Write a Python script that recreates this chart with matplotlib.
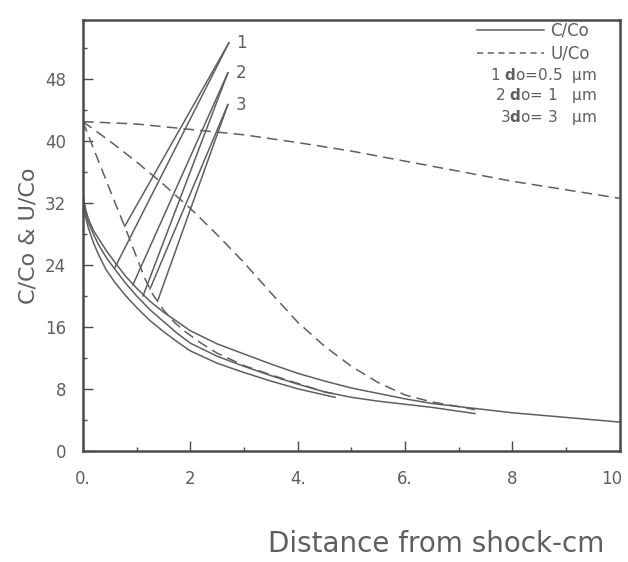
import matplotlib.pyplot as plt
import matplotlib.transforms as mtransforms
from matplotlib.lines import Line2D
from matplotlib.ticker import MultipleLocator

# C/Co curves for the three particle sizes (solid)
c1_x = [0.0, 0.04, 0.1, 0.2, 0.3, 0.43, 0.6, 0.8, 1.0, 1.25, 1.5, 1.75,
        2.0, 2.5, 3.0, 3.5, 4.0, 4.5, 4.7]
c1_y = [33.0, 30.5, 28.8, 26.8, 25.2, 23.4, 21.7, 20.0, 18.5, 16.8, 15.4,
        14.1, 12.9, 11.3, 10.1, 9.0, 8.0, 7.2, 6.9]
c2_x = [0.0, 0.05, 0.1, 0.2, 0.3, 0.45, 0.6, 0.8, 1.0, 1.25, 1.5, 1.75,
        2.0, 2.5, 3.0, 3.5, 4.0, 4.5, 5.0, 5.5, 6.0, 6.5, 7.0, 7.3]
c2_y = [33.0, 30.8, 29.5, 27.9, 26.5, 24.8, 23.4, 21.6, 20.0, 18.2, 16.7,
        15.2, 13.9, 12.2, 10.9, 9.7, 8.6, 7.6, 6.9, 6.4, 6.0, 5.6, 5.1, 4.8]
c3_x = [0.0, 0.05, 0.1, 0.2, 0.3, 0.45, 0.6, 0.8, 1.0, 1.25, 1.5, 1.75,
        2.0, 2.5, 3.0, 3.5, 4.0, 4.5, 5.0, 5.5, 6.0, 6.5, 7.0, 7.5, 8.0,
        8.5, 9.0, 9.5, 10.0]
c3_y = [33.0, 31.2, 30.0, 28.4, 27.3, 25.7, 24.3, 22.5, 21.0, 19.3, 17.9,
        16.7, 15.5, 13.8, 12.5, 11.2, 10.0, 9.0, 8.1, 7.4, 6.7, 6.1, 5.7,
        5.3, 4.9, 4.6, 4.3, 4.0, 3.7]

# U/Co curves (dashed)
u1_x = [0.0, 0.2, 0.4, 0.6, 0.8, 1.0, 1.15, 1.3, 1.5, 1.7, 1.9, 2.2, 2.5,
        3.0, 3.5, 4.0, 4.5, 4.7]
u1_y = [42.5, 39.0, 35.5, 32.0, 28.6, 25.0, 22.3, 20.2, 18.2, 16.6, 15.4,
        13.9, 12.6, 11.0, 9.8, 8.7, 7.6, 7.3]
u2_x = [0.0, 0.5, 1.0, 1.5, 2.0, 2.5, 3.0, 3.5, 4.0, 4.5, 5.0, 5.5, 6.0,
        6.5, 7.0, 7.3]
u2_y = [42.5, 40.0, 37.3, 34.4, 31.3, 27.9, 24.3, 20.4, 16.6, 13.5, 10.9,
        8.8, 7.2, 6.3, 5.7, 5.3]
u3_x = [0.0, 1, 2, 3, 4, 5, 6, 7, 8, 9, 10]
u3_y = [42.5, 42.2, 41.5, 40.8, 39.8, 38.7, 37.4, 36.1, 34.8, 33.7, 32.6]

# straight rising lines, two per particle size, ending at labels 1, 2, 3
rise_x = [[0.78, 2.72], [0.60, 2.72],
          [0.93, 2.70], [1.12, 2.70],
          [1.25, 2.70], [1.40, 2.70]]
rise_y = [[29.0, 52.7], [23.7, 52.7],
          [21.4, 48.8], [20.0, 48.8],
          [20.9, 44.7], [19.5, 44.7]]
rise_labels = ["1", "2", "3"]

size_labels = ["1 $\\mathbf{d}$o=0.5  \u03bcm",
               "2 $\\mathbf{d}$o= 1   \u03bcm",
               "3$\\mathbf{d}$o= 3   \u03bcm"]

x_ticks = [0, 2, 4, 6, 8, 10]
x_ticklabels = ["0.", "2", "4.", "6.", "8", "10"]
y_ticks = [0, 8, 16, 24, 32, 40, 48]

ink = "#5f5f5f"
frame = "#4a4a4a"
plt.rcParams["font.family"] = ["DejaVu Sans"]

fig = plt.figure(figsize=(6.28, 5.62), dpi=100)
ax = fig.add_axes([0.132, 0.198, 0.855, 0.766])

lw = 1.1
for xs, ys in [(c1_x, c1_y), (c2_x, c2_y), (c3_x, c3_y)]:
    ax.plot(xs, ys, color=ink, lw=lw)
for xs, ys in [(u1_x, u1_y), (u2_x, u2_y), (u3_x, u3_y)]:
    ax.plot(xs, ys, color=ink, lw=lw, dashes=(7, 4))
for xs, ys in zip(rise_x, rise_y):
    ax.plot(xs, ys, color=ink, lw=lw)

for i, lbl in enumerate(rise_labels):
    ax.text(rise_x[2 * i][1] + 0.14, rise_y[2 * i][1], lbl, color=ink,
            fontsize=12, ha="left", va="center")

ax.set_xlim(0, 10)
ax.set_ylim(0, 55.6)
ax.set_xticks(x_ticks)
ax.set_xticklabels(x_ticklabels)
ax.set_yticks(y_ticks)
ax.xaxis.set_minor_locator(MultipleLocator(1))
ax.yaxis.set_minor_locator(MultipleLocator(4))
ax.tick_params(which="both", direction="in", color=frame, labelcolor=ink,
               labelsize=12, width=1.0)
ax.tick_params(which="major", length=7)
ax.tick_params(which="minor", length=3)
ax.tick_params(axis="x", pad=14)
ax.tick_params(axis="y", pad=12)
for sp in ax.spines.values():
    sp.set_color(frame)
    sp.set_linewidth(1.8)

# last x label sits a little left of the axis end, as in the scan
last = ax.get_xticklabels()[-1]
last.set_transform(last.get_transform() + mtransforms.ScaledTranslation(
    -6 / 72, 0, fig.dpi_scale_trans))

ax.set_ylabel("C/Co & U/Co", color=ink, fontsize=16, labelpad=5)
fig.text(0.963, 0.018, "Distance from shock-cm", color=ink, fontsize=20,
         ha="right", va="baseline")

handles = [Line2D([], [], color=ink, lw=lw),
           Line2D([], [], color=ink, lw=lw, dashes=(4, 3))]
leg = ax.legend(handles, ["C/Co", "U/Co"], loc="upper right",
                bbox_to_anchor=(0.957, 1.012), frameon=False, fontsize=12,
                handlelength=4.0, handletextpad=0.4, labelspacing=0.3,
                borderaxespad=0.0)
for t in leg.get_texts():
    t.set_color(ink)

size_y = [0.872, 0.824, 0.774]
for lbl, yy in zip(size_labels, size_y):
    ax.text(0.957, yy, lbl, transform=ax.transAxes, color=ink,
            fontsize=11, ha="right", va="center")

fig.savefig("out.png", dpi=100, facecolor="white")
